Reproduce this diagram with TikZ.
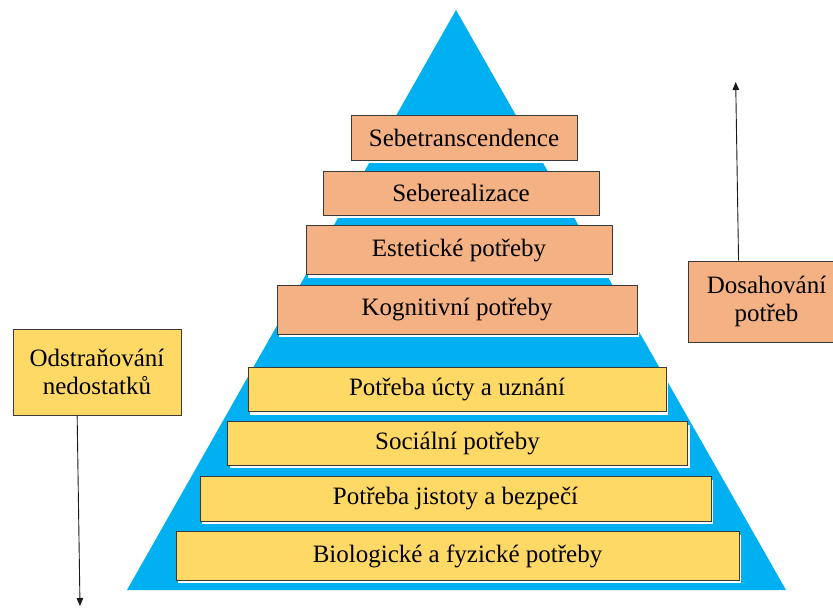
\documentclass[tikz,border=0pt]{standalone}
\usepackage{fontspec}
\setmainfont{Liberation Serif}
\newfontfamily\diagfont{Liberation Serif}
\usetikzlibrary{arrows.meta,shadows}
\definecolor{pyrblue}{HTML}{00B0F0}
\definecolor{orangebox}{HTML}{F4B183}
\definecolor{yellowbox}{HTML}{FFD966}
\definecolor{edgegray}{HTML}{3A3A3A}
\tikzset{
  lvl/.style={draw=edgegray, line width=0.9pt, inner sep=0pt, align=center,
    font=\diagfont\fontsize{25}{27}\selectfont,
    drop shadow={shadow xshift=2pt, shadow yshift=-3pt, fill=white, opacity=1, draw=none}},
  obox/.style={lvl, fill=orangebox},
  ybox/.style={lvl, fill=yellowbox},
  sidebox/.style={draw=edgegray, line width=0.9pt, inner sep=0pt, align=center,
    font=\diagfont\fontsize{25}{28}\selectfont},
  arr/.style={draw=black!90, line width=0.9pt, -{Triangle[length=8pt,width=6.5pt]}}
}
\begin{document}
\begin{tikzpicture}[x=1pt,y=-1pt]
\useasboundingbox (0,0) rectangle (833,608);
\clip (0,0) rectangle (833,608);
% pyramid
\path[fill=pyrblue] (456,10) -- (786,590) -- (127,590) -- cycle;
% upper (orange) levels
\node[obox, minimum width=226pt, minimum height=45pt] (l8) at (464,137.5) {Sebetranscendence};
\node[obox, minimum width=276pt, minimum height=44pt] (l7) at (461,193) {Seberealizace};
\node[obox, minimum width=306pt, minimum height=49pt] (l6) at (459,250) {Estetické potřeby};
\node[obox, minimum width=360pt, minimum height=49pt] (l5) at (457,309.5) {Kognitivní potřeby};
% lower (yellow) levels
\node[ybox, minimum width=418pt, minimum height=44pt] (l4) at (457,389.7) {Potřeba úcty a uznání};
\node[ybox, minimum width=460pt, minimum height=43.5pt] (l3) at (457.5,443.3) {Sociální potřeby};
\node[ybox, minimum width=511pt, minimum height=44.5pt] (l2) at (455.5,498.8) {Potřeba jistoty a bezpečí};
\node[ybox, minimum width=563pt, minimum height=48.5pt] (l1) at (457.5,556) {Biologické a fyzické potřeby};
% side boxes
\node[sidebox, fill=yellowbox, minimum width=168pt, minimum height=86pt] (odst) at (97,372) {Odstraňování\\nedostatků};
\node[sidebox, fill=orangebox, minimum width=157pt, minimum height=81pt] (dos) at (766.5,301.5) {Dosahování\\potřeb};
% arrows
\coordinate (odEnd) at (80,606);
\coordinate (dosEnd) at (735.7,82);
\draw[arr] ([xshift=64.6pt]odst.south west) -- (odEnd);
\draw[arr] ([xshift=51pt]dos.north west) -- (dosEnd);
\end{tikzpicture}
\end{document}
